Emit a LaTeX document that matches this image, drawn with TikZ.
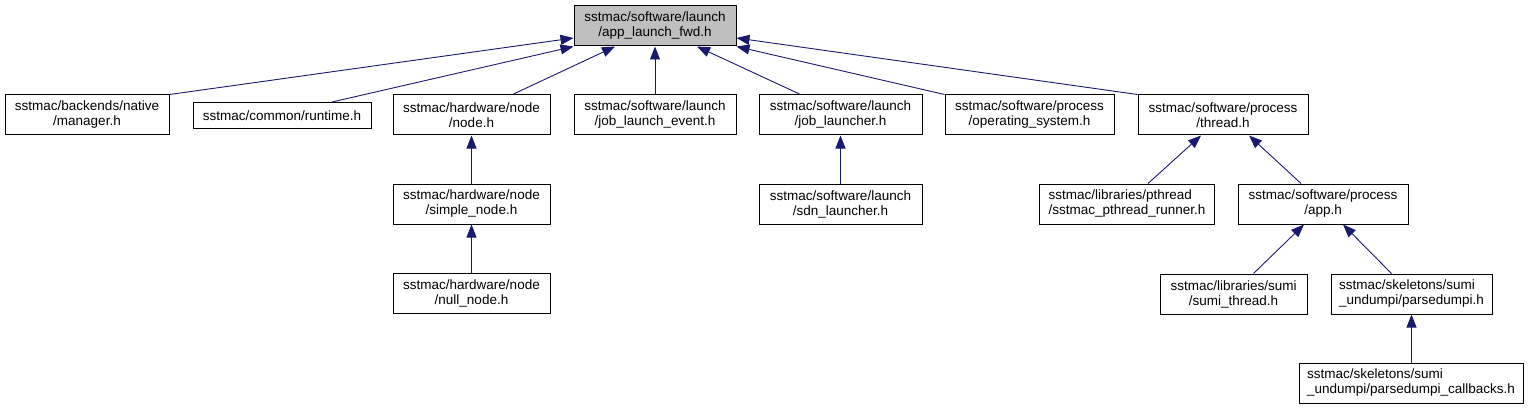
\documentclass[tikz,border=0pt]{standalone}
\usepackage{fontspec}
\setmainfont{Liberation Sans}
\usetikzlibrary{arrows.meta}
\definecolor{azulmeia}{HTML}{191970}
\definecolor{cinzatopo}{HTML}{BFBFBF}
\tikzset{
  arquivo/.style={draw=black, line width=1pt, minimum height=40, inner sep=2,
    align=center, font=\fontsize{13.5}{15}\selectfont},
  dep/.style={draw=azulmeia, line width=0.9pt, -{Triangle[length=13pt,width=10pt]}}
}
\begin{document}
\begin{tikzpicture}[x=1pt,y=-1pt]
			\useasboundingbox (0,0) rectangle (1528,409);
			
			% Arquivo de cabeçalho no topo
			\node[arquivo, fill=cinzatopo, minimum width=162] (fwd) at (655,26) {sstmac/software/launch\\/app\_launch\_fwd.h};
			
			% Arquivos que incluem diretamente
			\node[arquivo, minimum width=164] (manager) at (87,115) {sstmac/backends/native\\/manager.h};
			\node[arquivo, minimum width=178, minimum height=26] (runtime) at (282,115.5) {sstmac/common/runtime.h};
			\node[arquivo, minimum width=157] (node) at (471.5,115) {sstmac/hardware/node\\/node.h};
			\node[arquivo, minimum width=162] (jobevent) at (655,115) {sstmac/software/launch\\/job\_launch\_event.h};
			\node[arquivo, minimum width=163] (launcher) at (840.5,115) {sstmac/software/launch\\/job\_launcher.h};
			\node[arquivo, minimum width=169] (opsys) at (1029.5,115) {sstmac/software/process\\/operating\_system.h};
			\node[arquivo, minimum width=170] (thread) at (1223,115) {sstmac/software/process\\/thread.h};
			
			% Segundo nível
			\node[arquivo, minimum width=157] (simple) at (471.5,204) {sstmac/hardware/node\\/simple\_node.h};
			\node[arquivo, minimum width=163] (sdn) at (840.5,204) {sstmac/software/launch\\/sdn\_launcher.h};
			\node[arquivo, minimum width=175, align=left] (pthread) at (1127,204) {sstmac/libraries/pthread\\/sstmac\_pthread\_runner.h};
			\node[arquivo, minimum width=170] (app) at (1323,204) {sstmac/software/process\\/app.h};
			
			% Terceiro nível
			\node[arquivo, minimum width=157] (null) at (471.5,293) {sstmac/hardware/node\\/null\_node.h};
			\node[arquivo, minimum width=147] (sumithread) at (1233.5,294) {sstmac/libraries/sumi\\/sumi\_thread.h};
			\node[arquivo, minimum width=161, align=left] (parsedumpi) at (1411.5,294) {sstmac/skeletons/sumi\\\_undumpi/parsedumpi.h};
			
			% Quarto nível
			\node[arquivo, minimum width=224, align=left] (callbacks) at (1411,383) {sstmac/skeletons/sumi\\\_undumpi/parsedumpi\_callbacks.h};
			
			% Dependências até o topo
			\draw[dep] (manager.north east) -- ([yshift=-12]fwd.west);
			\draw[dep] ([xshift=50]runtime.north) -- (fwd.south west);
			\draw[dep] ([xshift=41]node.north) -- ([xshift=-40]fwd.south);
			\draw[dep] (jobevent.north) -- (fwd.south);
			\draw[dep] ([xshift=-40]launcher.north) -- ([xshift=42]fwd.south);
			\draw[dep] (opsys.north west) -- (fwd.south east);
			\draw[dep] (thread.north west) -- ([yshift=-12]fwd.east);
			
			% Dependências dos níveis de baixo
			\draw[dep] (simple) -- (node);
			\draw[dep] (null) -- (simple);
			\draw[dep] (sdn) -- (launcher);
			\draw[dep] ([xshift=21]pthread.north) -- ([xshift=-22]thread.south);
			\draw[dep] ([xshift=-22]app.north) -- ([xshift=26]thread.south);
			\draw[dep] ([xshift=20]sumithread.north) -- ([xshift=-19]app.south);
			\draw[dep] ([xshift=-20]parsedumpi.north) -- ([xshift=20]app.south);
			\draw[dep] (callbacks.north -| parsedumpi.south) -- (parsedumpi.south);
		\end{tikzpicture}
\end{document}
